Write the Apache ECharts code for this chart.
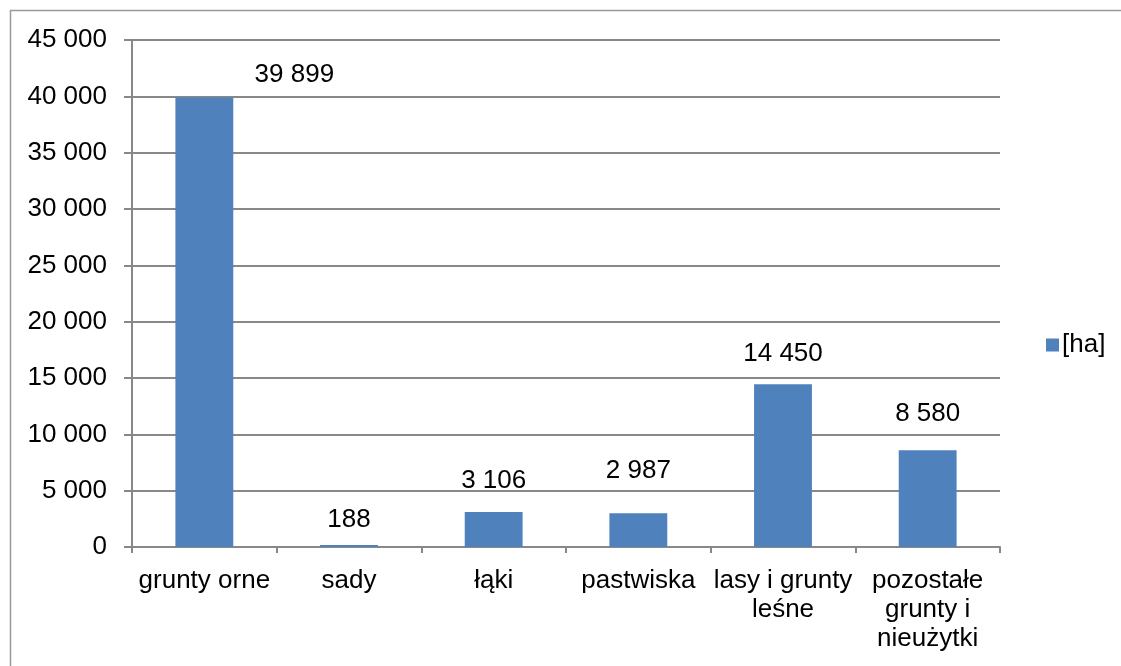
<!DOCTYPE html>
<html>
<head>
<meta charset="utf-8">
<script src="https://cdn.jsdelivr.net/npm/echarts@6/dist/echarts.min.js"></script>
<style>
  html, body { margin: 0; padding: 0; background: #fff; }
  #main { width: 1121px; height: 666px; }
</style>
</head>
<body>
<div id="main"></div>
<script>
// land use categories and areas [ha]
var categories = ['grunty orne', 'sady', 'łąki', 'pastwiska', 'lasy i grunty\nleśne', 'pozostałe\ngrunty i\nnieużytki'];
var areaHa = [39899, 188, 3106, 2987, 14450, 8580];
var seriesName = '[ha]';

function fmt(v) {
  return String(v).replace(/\B(?=(\d{3})+(?!\d))/g, ' ');
}

// hand-placed labels like in the original sheet
var labelOffsets = [[90, -5], [0, -7], [0, -13], [0, -25], [0, -12], [0, -19]];

var chart = echarts.init(document.getElementById('main'));
var font = 'Liberation Sans, Arial, sans-serif';
var gray = '#888888';
var fs = 26;

var option = {
  animation: false,
  textStyle: { fontFamily: font },
  graphic: [{
    type: 'rect',
    shape: { x: 10.5, y: 10.5, width: 1120, height: 670 },
    style: { fill: 'none', stroke: '#999', lineWidth: 1.5 }
  }],
  legend: {
    data: [seriesName],
    left: 1041,
    top: 327,
    icon: 'rect',
    itemWidth: 13,
    itemHeight: 13,
    itemGap: 4,
    textStyle: { fontSize: fs, color: '#000', fontFamily: font, padding: [0, 0, 0, -2] }
  },
  grid: {
    left: 132,
    right: 121,
    top: 40,
    bottom: 119
  },
  xAxis: {
    type: 'category',
    data: categories,
    axisLine: { lineStyle: { color: gray, width: 2 } },
    axisTick: { show: true, length: 6, lineStyle: { color: gray, width: 2 } },
    axisLabel: {
      color: '#000',
      fontSize: fs,
      lineHeight: 29,
      margin: 19,
      interval: 0,
      fontFamily: font
    }
  },
  yAxis: {
    type: 'value',
    min: 0,
    max: 45000,
    interval: 5000,
    axisLine: { show: true, lineStyle: { color: gray, width: 2 } },
    axisTick: { show: true, length: 8, lineStyle: { color: gray, width: 2 } },
    splitLine: { lineStyle: { color: gray, width: 2 } },
    axisLabel: {
      color: '#000',
      fontSize: fs,
      margin: 25,
      fontFamily: font,
      formatter: function (v) { return fmt(v); }
    }
  },
  series: [{
    name: seriesName,
    type: 'bar',
    barWidth: '40%',
    itemStyle: { color: '#4F81BD' },
    label: {
      show: true,
      position: 'top',
      color: '#000',
      fontSize: fs,
      fontFamily: font,
      formatter: function (p) { return fmt(p.value); }
    },
    data: areaHa.map(function (v, i) {
      return { value: v, label: { offset: labelOffsets[i] } };
    })
  }]
};

chart.setOption(option);
</script>
</body>
</html>
